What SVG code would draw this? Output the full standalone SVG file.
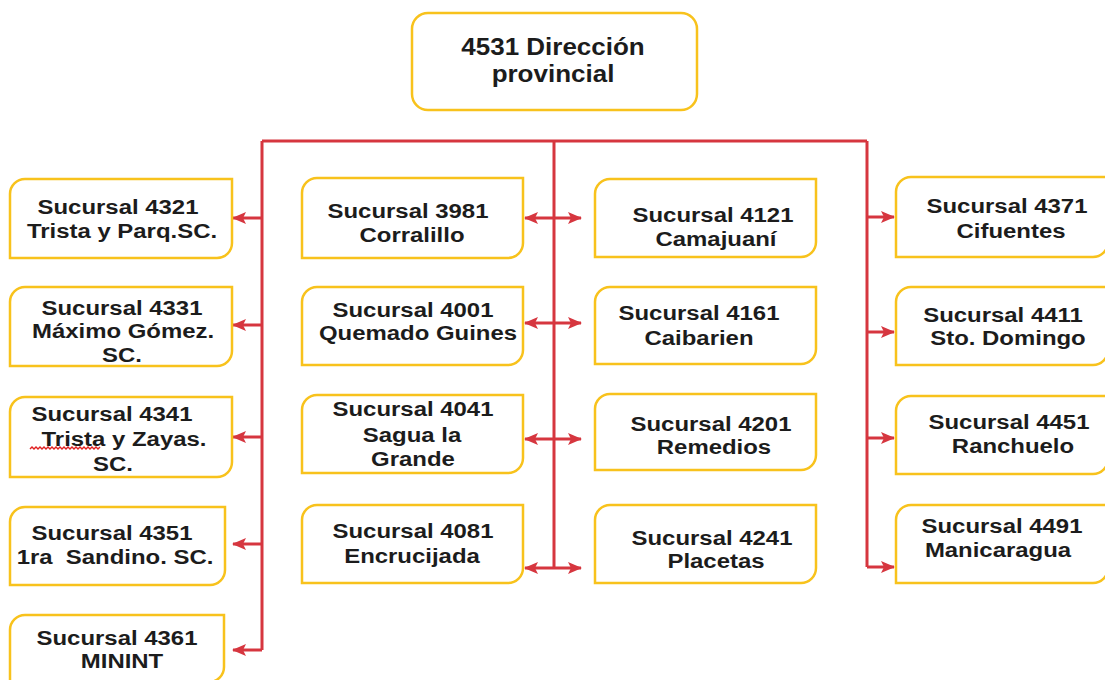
<svg xmlns="http://www.w3.org/2000/svg" width="1105" height="680" viewBox="0 0 1105 680">
  <style>
    .box { fill: #ffffff; stroke: #f8c21c; stroke-width: 2.5; }
    .t { font-family: "Liberation Sans", Arial, sans-serif; font-weight: bold; font-size: 21px; fill: #1c1c1c; text-anchor: middle; }
    .tt { font-size: 23px; }
    .ln { fill: none; stroke: #d6363f; stroke-width: 3; }
    .sq { fill: none; stroke: #e02020; stroke-width: 1.4; }
  </style>
  <defs>
    <marker id="head" viewBox="0 0 14 12" refX="13" refY="6" markerWidth="14" markerHeight="12" markerUnits="userSpaceOnUse" orient="auto-start-reverse">
      <path d="M0,0 L14,6 L0,12 L3,6 Z" fill="#d6363f"/>
    </marker>
  </defs>
  <rect width="1105" height="680" fill="#ffffff"/>

  <!-- connectors -->
  <g id="connectors">
    <path class="ln" d="M262,141 H867"/>
    <path class="ln" d="M262,141 V650"/>
    <path class="ln" d="M554,141 V568"/>
    <path class="ln" d="M867,141 V567"/>
    <!-- left branch -->
    <path class="ln" d="M262,218 H233" marker-end="url(#head)"/>
    <path class="ln" d="M262,325 H233" marker-end="url(#head)"/>
    <path class="ln" d="M262,437 H233" marker-end="url(#head)"/>
    <path class="ln" d="M262,544 H233" marker-end="url(#head)"/>
    <path class="ln" d="M262,650 H233" marker-end="url(#head)"/>
    <!-- centre branch, both directions -->
    <path class="ln" d="M525,218 H581" marker-start="url(#head)" marker-end="url(#head)"/>
    <path class="ln" d="M525,323 H581" marker-start="url(#head)" marker-end="url(#head)"/>
    <path class="ln" d="M525,439 H581" marker-start="url(#head)" marker-end="url(#head)"/>
    <path class="ln" d="M525,568 H581" marker-start="url(#head)" marker-end="url(#head)"/>
    <!-- right branch -->
    <path class="ln" d="M867,217 H894" marker-end="url(#head)"/>
    <path class="ln" d="M867,332 H894" marker-end="url(#head)"/>
    <path class="ln" d="M867,438 H894" marker-end="url(#head)"/>
    <path class="ln" d="M867,567 H894" marker-end="url(#head)"/>
  </g>

  <!-- head office -->
  <g id="n4531">
    <rect class="box" x="412" y="13" width="285" height="97" rx="16" ry="16"/>
    <text class="t tt" transform="translate(553 55) scale(1.13 1)">4531 Dirección</text>
    <text class="t tt" transform="translate(553 82) scale(1.13 1)">provincial</text>
  </g>

  <!-- left column -->
  <g id="n4321">
    <path class="box" d="M25,179 H232 V243 A15,15 0 0 1 217,258 H10 V194 A15,15 0 0 1 25,179 Z"/>
    <text class="t" transform="translate(118 214) scale(1.14 1)">Sucursal 4321</text>
    <text class="t" transform="translate(122 238) scale(1.14 1)">Trista y Parq.SC.</text>
  </g>
  <g id="n4331">
    <path class="box" d="M25,287 H232 V351 A15,15 0 0 1 217,366 H10 V302 A15,15 0 0 1 25,287 Z"/>
    <text class="t" transform="translate(122 315) scale(1.14 1)">Sucursal 4331</text>
    <text class="t" transform="translate(123 338) scale(1.14 1)">Máximo Gómez.</text>
    <text class="t" transform="translate(122 362) scale(1.14 1)">SC.</text>
  </g>
  <g id="n4341">
    <path class="box" d="M25,397 H232 V462 A15,15 0 0 1 217,477 H10 V412 A15,15 0 0 1 25,397 Z"/>
    <text class="t" transform="translate(112 421) scale(1.14 1)">Sucursal 4341</text>
    <text class="t" transform="translate(124 446) scale(1.14 1)">Trista y Zayas.</text>
    <!-- spell-check squiggle under the first word -->
    <path class="sq" d="M30,449 l2,-2 l2,2 l2,-2 l2,2 l2,-2 l2,2 l2,-2 l2,2 l2,-2 l2,2 l2,-2 l2,2 l2,-2 l2,2 l2,-2 l2,2 l2,-2 l2,2 l2,-2 l2,2 l2,-2 l2,2 l2,-2 l2,2 l2,-2 l2,2 l2,-2 l2,2 l2,-2 l2,2 l2,-2 l2,2 l2,-2 l2,2 l2,-2"/>
    <text class="t" transform="translate(113 471) scale(1.14 1)">SC.</text>
  </g>
  <g id="n4351">
    <path class="box" d="M25,507 H225 V570 A15,15 0 0 1 210,585 H10 V522 A15,15 0 0 1 25,507 Z"/>
    <text class="t" transform="translate(112 540) scale(1.14 1)">Sucursal 4351</text>
    <text class="t" transform="translate(115 564) scale(1.14 1)" xml:space="preserve">1ra  Sandino. SC.</text>
  </g>
  <g id="n4361">
    <path class="box" d="M25,615 H224 V667 A15,15 0 0 1 209,682 H10 V630 A15,15 0 0 1 25,615 Z"/>
    <text class="t" transform="translate(117 645) scale(1.14 1)">Sucursal 4361</text>
    <text class="t" transform="translate(122 668) scale(1.14 1)">MININT</text>
  </g>

  <!-- centre-left column -->
  <g id="n3981">
    <path class="box" d="M317,178 H523 V243 A15,15 0 0 1 508,258 H302 V193 A15,15 0 0 1 317,178 Z"/>
    <text class="t" transform="translate(408 218) scale(1.14 1)">Sucursal 3981</text>
    <text class="t" transform="translate(412 242) scale(1.14 1)">Corralillo</text>
  </g>
  <g id="n4001">
    <path class="box" d="M317,287 H523 V350 A15,15 0 0 1 508,365 H302 V302 A15,15 0 0 1 317,287 Z"/>
    <text class="t" transform="translate(413 317) scale(1.14 1)">Sucursal 4001</text>
    <text class="t" transform="translate(418 340) scale(1.14 1)">Quemado Guines</text>
  </g>
  <g id="n4041">
    <path class="box" d="M317,395 H523 V458 A15,15 0 0 1 508,473 H302 V410 A15,15 0 0 1 317,395 Z"/>
    <text class="t" transform="translate(413 416) scale(1.14 1)">Sucursal 4041</text>
    <text class="t" transform="translate(412 442) scale(1.14 1)">Sagua la</text>
    <text class="t" transform="translate(413 466) scale(1.14 1)">Grande</text>
  </g>
  <g id="n4081">
    <path class="box" d="M317,505 H523 V568 A15,15 0 0 1 508,583 H302 V520 A15,15 0 0 1 317,505 Z"/>
    <text class="t" transform="translate(413 538) scale(1.14 1)">Sucursal 4081</text>
    <text class="t" transform="translate(412 563) scale(1.14 1)">Encrucijada</text>
  </g>

  <!-- centre-right column -->
  <g id="n4121">
    <path class="box" d="M610,179 H816 V242 A15,15 0 0 1 801,257 H595 V194 A15,15 0 0 1 610,179 Z"/>
    <text class="t" transform="translate(713 222) scale(1.14 1)">Sucursal 4121</text>
    <text class="t" transform="translate(716 246) scale(1.14 1)">Camajuaní</text>
  </g>
  <g id="n4161">
    <path class="box" d="M610,287 H816 V349 A15,15 0 0 1 801,364 H595 V302 A15,15 0 0 1 610,287 Z"/>
    <text class="t" transform="translate(699 320) scale(1.14 1)">Sucursal 4161</text>
    <text class="t" transform="translate(699 345) scale(1.14 1)">Caibarien</text>
  </g>
  <g id="n4201">
    <path class="box" d="M610,394 H816 V455 A15,15 0 0 1 801,470 H595 V409 A15,15 0 0 1 610,394 Z"/>
    <text class="t" transform="translate(711 431) scale(1.14 1)">Sucursal 4201</text>
    <text class="t" transform="translate(714 454) scale(1.14 1)">Remedios</text>
  </g>
  <g id="n4241">
    <path class="box" d="M610,505 H816 V568 A15,15 0 0 1 801,583 H595 V520 A15,15 0 0 1 610,505 Z"/>
    <text class="t" transform="translate(712 545) scale(1.14 1)">Sucursal 4241</text>
    <text class="t" transform="translate(716 568) scale(1.14 1)">Placetas</text>
  </g>

  <!-- right column -->
  <g id="n4371">
    <path class="box" d="M911,177 H1108 V242 A15,15 0 0 1 1093,257 H896 V192 A15,15 0 0 1 911,177 Z"/>
    <text class="t" transform="translate(1007 213) scale(1.14 1)">Sucursal 4371</text>
    <text class="t" transform="translate(1011 238) scale(1.14 1)">Cifuentes</text>
  </g>
  <g id="n4411">
    <path class="box" d="M911,287 H1108 V350 A15,15 0 0 1 1093,365 H896 V302 A15,15 0 0 1 911,287 Z"/>
    <text class="t" transform="translate(1003 322) scale(1.14 1)">Sucursal 4411</text>
    <text class="t" transform="translate(1008 345) scale(1.14 1)">Sto. Domingo</text>
  </g>
  <g id="n4451">
    <path class="box" d="M911,396 H1108 V459 A15,15 0 0 1 1093,474 H896 V411 A15,15 0 0 1 911,396 Z"/>
    <text class="t" transform="translate(1009 429) scale(1.14 1)">Sucursal 4451</text>
    <text class="t" transform="translate(1013 453) scale(1.14 1)">Ranchuelo</text>
  </g>
  <g id="n4491">
    <path class="box" d="M911,505 H1108 V568 A15,15 0 0 1 1093,583 H896 V520 A15,15 0 0 1 911,505 Z"/>
    <text class="t" transform="translate(1002 533) scale(1.14 1)">Sucursal 4491</text>
    <text class="t" transform="translate(998 557) scale(1.14 1)">Manicaragua</text>
  </g>
</svg>
